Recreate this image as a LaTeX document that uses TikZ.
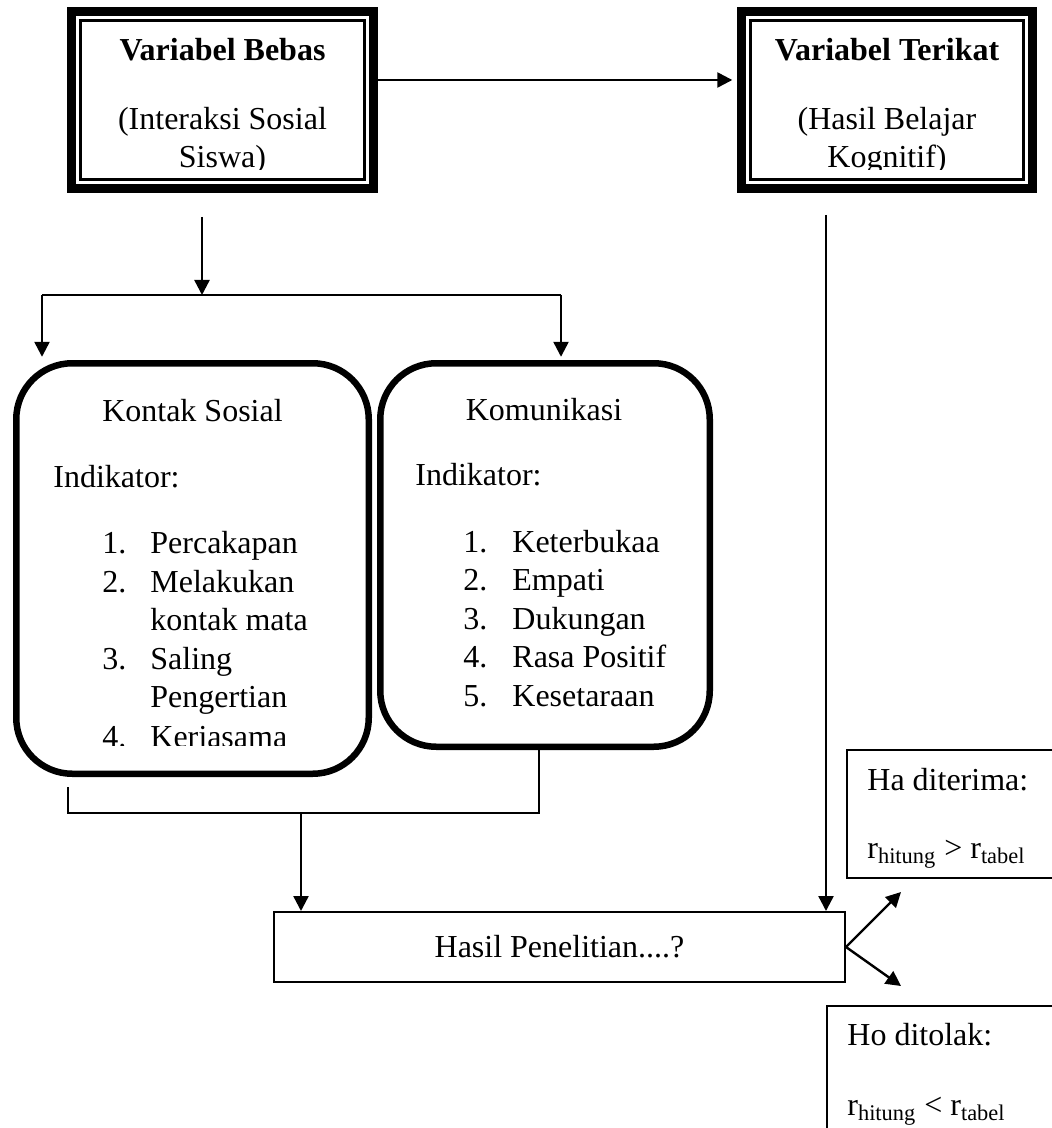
\documentclass[tikz,border=0pt]{standalone}
\usepackage{fontspec}
\setmainfont{Liberation Serif}
\usetikzlibrary{arrows.meta}
\def\px{0.5pt}
\tikzset{
  varframe/.style={draw, line width=9.4*\px, inner sep=0pt, minimum height=176.6*\px},
  varinner/.style={draw, line width=2.4*\px, inner sep=0pt, minimum height=159.2*\px},
  indbox/.style={draw, line width=6.5*\px, rounded corners=28pt, inner sep=0pt},
  thinbox/.style={draw, line width=2*\px, inner sep=0pt},
  txt/.style={inner sep=0pt, anchor=base west},
  ctxt/.style={inner sep=0pt, anchor=base},
  link/.style={line width=2.4*\px},
  arr/.style={link, -{Triangle[length=7.5pt, width=7.5pt]}},
}

\begin{document}
\begin{tikzpicture}[x=\px, y=-\px, font=\fontsize{16}{19}\selectfont]
  %kerangka berpikir
    \useasboundingbox (0,0) rectangle (1051,1128);
    \node[varframe, minimum width=301.6*\px] (bebas) at (222.5,100) {};
    \node[varinner, minimum width=284.2*\px] (bebasin) at (bebas) {};
    \node[varframe, minimum width=290.6*\px] (terikat) at (887,100) {};
    \node[varinner, minimum width=273.2*\px] (terikatin) at (terikat) {};
    \begin{scope}
      \clip (0,0) rectangle (1051,170);
      \node[ctxt] (bebasT) at (222.5,61) {\textbf{Variabel Bebas}};
      \node[ctxt] (bebasA) at (222.5,130) {(Interaksi Sosial};
      \node[ctxt] (bebasB) at (222.5,168) {Siswa)};
      \node[ctxt] (terikatT) at (887,61) {\textbf{Variabel Terikat}};
      \node[ctxt] (terikatA) at (887,130) {(Hasil Belajar};
      \node[ctxt] (terikatB) at (887,168) {Kognitif)};
    \end{scope}
    \draw[arr, shorten >=2.35pt] ([yshift=10pt]bebas.east) -- ([yshift=10pt]terikat.west);
    % indikator
    \node[indbox, minimum width=352.5*\px, minimum height=410.5*\px] (kontak) at (192.5,568.5) {};
    \node[indbox, minimum width=329.5*\px, minimum height=383.5*\px] (komunikasi) at (545,555) {};
    \begin{scope}
      \clip (0,0) rectangle (1051,745);
      \node[ctxt] (kontakT) at (192.5,421) {Kontak Sosial};
      \node[txt] (kontakI) at (53,487) {Indikator:};
      \node[txt] (kn1) at (102,553.5) {1.};
      \node[txt] (ki1) at (150,553.5) {Percakapan};
      \node[txt] (kn2) at (102,592) {2.};
      \node[txt] (ki2) at (150,592) {Melakukan};
      \node[txt] (ki2b) at (150,630.5) {kontak mata};
      \node[txt] (kn3) at (102,669) {3.};
      \node[txt] (ki3) at (150,669) {Saling};
      \node[txt] (ki3b) at (150,707.5) {Pengertian};
      \node[txt] (kn4) at (102,747) {4.};
      \node[txt] (ki4) at (150,747) {Kerjasama};
    \end{scope}
    \node[ctxt] (komT) at (544,420) {Komunikasi};
    \node[txt] (komI) at (415,485) {Indikator:};
    \node[txt] (mn1) at (463,552) {1.};
    \node[txt] (mi1) at (512,552) {Keterbukaa};
    \node[txt] (mn2) at (463,590.5) {2.};
    \node[txt] (mi2) at (512,590.5) {Empati};
    \node[txt] (mn3) at (463,629) {3.};
    \node[txt] (mi3) at (512,629) {Dukungan};
    \node[txt] (mn4) at (463,667.5) {4.};
    \node[txt] (mi4) at (512,667.5) {Rasa Positif};
    \node[txt] (mn5) at (463,706) {5.};
    \node[txt] (mi5) at (512,706) {Kesetaraan};
    \coordinate (bdown) at (202,217);
    \coordinate (split) at (202,295);
    \coordinate (kl) at (42,295);
    \coordinate (kr) at (561,295);
    \draw[arr] (bdown) -- (split);
    \draw[link] (kl) -- (kr);
    \draw[arr, shorten >=1.6pt] (kl) -- (kl |- kontak.north);
    \draw[arr, shorten >=1.6pt] (kr) -- (kr |- komunikasi.north);
    % hasil
    \node[thinbox, minimum width=571*\px, minimum height=70*\px] (hasil) at (559.5,947) {Hasil Penelitian....?};
    \coordinate (ml) at (68,787);
    \coordinate (mr) at (539,813);
    \coordinate (mj) at (301,813);
    \draw[link] (ml) |- (mr) -- (mr |- komunikasi.south);
    \draw[arr] (mj) -- (mj |- hasil.north);
    \coordinate (tdown) at (826,215);
    \draw[arr] (tdown) -- (tdown |- hasil.north);
    \node[thinbox, minimum width=206*\px, minimum height=128*\px] (ha) at (950,814) {};
    \node[thinbox, minimum width=226*\px, minimum height=134*\px] (ho) at (940,1073) {};
    \node[txt] (haT) at (867,790) {Ha diterima:};
    \node[txt] (haR) at (867,858) {r\textsubscript{hitung} > r\textsubscript{tabel}};
    \node[txt] (hoT) at (847,1045) {Ho ditolak:};
    \node[txt] (hoR) at (847,1115) {r\textsubscript{hitung} < r\textsubscript{tabel}};
    \coordinate (haTip) at (901,892);
    \coordinate (hoTip) at (901,986);
    \draw[arr] (hasil.east) -- (haTip);
    \draw[arr] (hasil.east) -- (hoTip);
  \end{tikzpicture}
\end{document}
